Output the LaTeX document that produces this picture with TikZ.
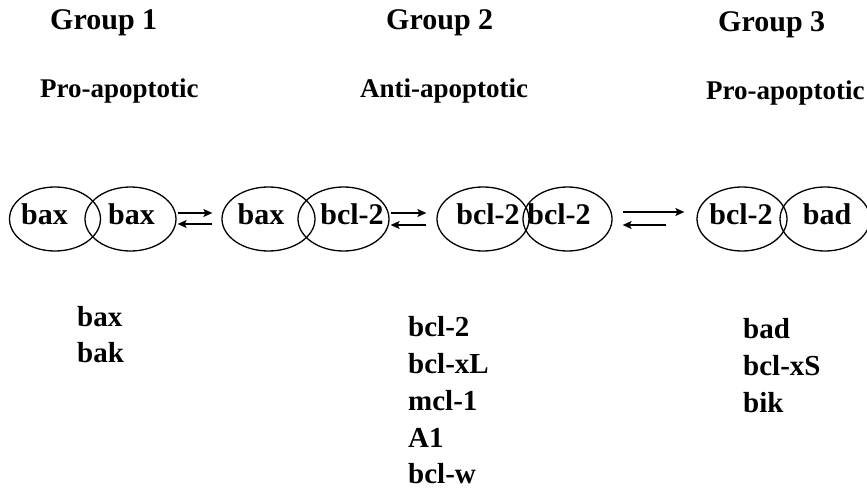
\documentclass[tikz,border=0pt]{standalone}
\usepackage{fontspec}
\setmainfont{Liberation Serif}
\usetikzlibrary{arrows.meta,shapes.geometric,calc}
\begin{document}
\begin{tikzpicture}[x=1pt,y=-1pt,
  mol/.style={draw,line width=1.3pt,ellipse,inner sep=0pt,minimum width=91pt,minimum height=64pt},
  lbl/.style={anchor=base,inner sep=0pt,font=\fontsize{30}{30}\selectfont\bfseries},
  head/.style={anchor=base west,inner sep=0pt,font=\fontsize{30}{30}\selectfont\bfseries},
  sub/.style={anchor=base west,inner sep=0pt,font=\fontsize{27}{27}\selectfont\bfseries},
  item/.style={anchor=base west,inner sep=0pt,font=\fontsize{29}{29}\selectfont\bfseries},
  rx/.style={line width=1.3pt,-{Stealth[length=9pt,width=8pt,inset=2pt]}}]
\useasboundingbox (0,0) rectangle (867,489);
% headings
\node[head] (g1) at (50,30) {Group 1};
\node[head] (g2) at (386,30) {Group 2};
\node[head] (g3) at (718,32) {Group 3};
\node[sub] (p1) at (40,98) {Pro-apoptotic};
\node[sub] (p2) at (360,98) {Anti-apoptotic};
\node[sub] (p3) at (706,100) {Pro-apoptotic};
% molecules
\node[mol] (e1) at (55,219) {};
\node[mol] (e2) at (130.5,219) {};
\node[mol,minimum width=93pt] (e3) at (268.5,219) {};
\node[mol] (e4) at (343.5,219) {};
\node[mol,minimum width=92pt] (e5) at (483,219) {};
\node[mol,minimum width=89pt] (e6) at (567.5,219) {};
\node[mol,minimum width=90pt] (e7) at (742,219) {};
\node[mol,minimum width=90pt] (e8) at (825,219) {};
\node[lbl] (t1) at (44.5,225) {bax};
\node[lbl] (t2) at (131.5,225) {bax};
\node[lbl] (t3) at (261,225) {bax};
\node[lbl] (t4) at (352,225) {bcl-2};
\node[lbl] (t5) at (488,225) {bcl-2};
\node[lbl] (t6) at (559,225) {bcl-2};
\node[lbl] (t7) at (741,225) {bcl-2};
\node[lbl] (t8) at (827,225) {bad};
% equilibrium arrows
\draw[rx] ($(e2.east)+(1,-6)$) -- ($(e3.west)+(-9,-6)$);
\draw[rx] ($(e3.west)+(-9,5)$) -- ($(e2.east)+(1,5)$);
\draw[rx] ($(e4.east)+(1,-6)$) -- ($(e5.west)+(-10,-6)$);
\draw[rx] ($(e5.west)+(-10,6)$) -- ($(e4.east)+(1,6)$);
\draw[rx] ($(e6.east)+(10,-7)$) -- ($(e7.west)+(-12,-7)$);
\draw[rx] ($(e7.west)+(-30,6)$) -- ($(e6.east)+(10,6)$);
% members
\node[item] (a1) at (77,326) {bax};
\node[item] (a2) at (77,362) {bak};
\node[item] (b1) at (408,336) {bcl-2};
\node[item] (b2) at (408,373) {bcl-xL};
\node[item] (b3) at (408,410) {mcl-1};
\node[item] (b4) at (408,447) {A1};
\node[item] (b5) at (408,483) {bcl-w};
\node[item] (c1) at (743,338) {bad};
\node[item] (c2) at (743,375) {bcl-xS};
\node[item] (c3) at (743,412) {bik};
\end{tikzpicture}
\end{document}
